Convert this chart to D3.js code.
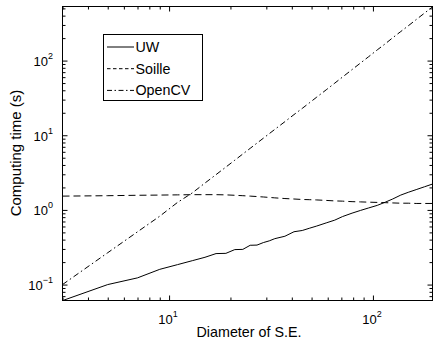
<!DOCTYPE html>
<html><head><meta charset="utf-8">
<script src="https://cdn.jsdelivr.net/npm/d3@7"></script>
<style>
body{margin:0;background:#fff}
svg{display:block}
text{font-family:"Liberation Sans",Arial,Helvetica,sans-serif;fill:#000}
</style>
</head><body><svg id="c" width="434" height="343"></svg>
<script>
const diameters=[3,5,7,9,11,13,15,17,19,21,23,25,27,29,31,33,37,41,45,49,53,59,65,71,79,87,95,105,115,125,137,149,163,179,196];
const uwTimes=[0.061,0.100,0.123,0.160,0.185,0.209,0.232,0.260,0.262,0.294,0.296,0.336,0.338,0.365,0.385,0.412,0.444,0.510,0.530,0.570,0.608,0.670,0.730,0.815,0.905,0.985,1.06,1.15,1.27,1.40,1.58,1.72,1.87,2.04,2.22];
const soilleTimes=[1.53,1.55,1.57,1.58,1.59,1.60,1.60,1.60,1.59,1.57,1.55,1.53,1.51,1.49,1.47,1.45,1.42,1.40,1.38,1.37,1.36,1.34,1.32,1.31,1.29,1.28,1.27,1.26,1.25,1.24,1.23,1.23,1.22,1.22,1.22];
const opencvTimes=[0.100,0.267,0.509,0.824,1.26,1.69,2.29,2.97,3.75,4.63,5.61,6.68,7.85,9.12,10.5,11.97,15.2,18.9,22.9,27.4,32.4,40.6,49.9,60.3,75.7,93,112,139,168,202,245,292,354,432,524];
const seriesNames=["UW","Soille","OpenCV"];
const seriesDash=[null,"7,4","6,3,1.5,3"];
const legendDash=[null,"3.5,2.5","5,2.5,1.5,2.5"];
const xMajorTicks=[10,100];
const xTickExps=["1","2"];
const yMajorTicks=[0.1,1,10,100];
const yTickExps=["\u22121","0","1","2"];
const xAxisTitle="Diameter of S.E.";
const yAxisTitle="Computing time (s)";

const svg=d3.select("#c");
const L=62.5,R=432.5,T=6.5,B=300.5;
const x=d3.scaleLog().domain([3,196]).range([L,R]);
const y=d3.scaleLog().domain([0.0612,530]).range([B,T]);

const isMajor=v=>Math.abs(Math.log10(v)-Math.round(Math.log10(v)))<1e-9;
const xMinor=x.ticks().filter(v=>!isMajor(v));
const yMinor=y.ticks().filter(v=>!isMajor(v));

function axisGroup(gen, tr){
  const g=svg.append("g").attr("transform",tr).call(gen);
  g.select(".domain").remove();
  g.selectAll("line").attr("stroke","#000").attr("stroke-width",1);
  g.selectAll("text").remove();
  return g;
}
axisGroup(d3.axisBottom(x).tickValues(xMajorTicks).tickSize(-5).tickFormat(""),`translate(0,${B})`);
axisGroup(d3.axisBottom(x).tickValues(xMinor).tickSize(-3).tickFormat(""),`translate(0,${B})`);
axisGroup(d3.axisTop(x).tickValues(xMajorTicks).tickSize(-5).tickFormat(""),`translate(0,${T})`);
axisGroup(d3.axisTop(x).tickValues(xMinor).tickSize(-3).tickFormat(""),`translate(0,${T})`);
axisGroup(d3.axisLeft(y).tickValues(yMajorTicks).tickSize(-5).tickFormat(""),`translate(${L},0)`);
axisGroup(d3.axisLeft(y).tickValues(yMinor).tickSize(-3).tickFormat(""),`translate(${L},0)`);
axisGroup(d3.axisRight(y).tickValues(yMajorTicks).tickSize(-5).tickFormat(""),`translate(${R},0)`);
axisGroup(d3.axisRight(y).tickValues(yMinor).tickSize(-3).tickFormat(""),`translate(${R},0)`);

svg.append("clipPath").attr("id","clip").append("rect")
  .attr("x",L).attr("y",T).attr("width",R-L).attr("height",B-T);

const series=[uwTimes,soilleTimes,opencvTimes];
const line=d3.line().x((d,i)=>x(diameters[i])).y(d=>y(d));
series.forEach((s,k)=>{
  svg.append("path").attr("d",line(s)).attr("fill","none")
    .attr("stroke","#000").attr("stroke-width",1)
    .attr("stroke-dasharray",seriesDash[k])
    .attr("clip-path","url(#clip)");
});

svg.append("rect").attr("x",L).attr("y",T).attr("width",R-L).attr("height",B-T)
  .attr("fill","none").attr("stroke","#000").attr("stroke-width",1);

xMajorTicks.forEach((v,i)=>{
  const t=svg.append("text").attr("x",x(v)-1).attr("y",324)
    .attr("text-anchor","middle").style("font-size","13px");
  t.append("tspan").text("10");
  t.append("tspan").attr("dy",-7).style("font-size","9px").text(xTickExps[i]);
});
yMajorTicks.forEach((v,i)=>{
  const t=svg.append("text").attr("x",53).attr("y",y(v)+5.5)
    .attr("text-anchor","end").style("font-size","13px");
  t.append("tspan").text("10");
  t.append("tspan").attr("dy",-7).style("font-size","9px").text(yTickExps[i]);
});
svg.append("text").attr("x",(L+R)/2+1.5).attr("y",336.5).attr("text-anchor","middle")
  .style("font-size","14.3px").text(xAxisTitle);
svg.append("text").attr("transform",`translate(20.5,153) rotate(-90)`)
  .attr("text-anchor","middle").style("font-size","15px").text(yAxisTitle);

const lg=svg.append("g");
lg.append("rect").attr("x",103.5).attr("y",34.5).attr("width",99).attr("height",66)
  .attr("fill","#fff").attr("stroke","#000").attr("stroke-width",1);
seriesNames.forEach((n,k)=>{
  const yy=47+k*21.7;
  lg.append("line").attr("x1",107).attr("x2",134).attr("y1",yy).attr("y2",yy)
    .attr("stroke","#000").attr("stroke-width",1).attr("stroke-dasharray",legendDash[k]);
  lg.append("text").attr("x",135.5).attr("y",yy+5).style("font-size","14.3px").text(n);
});
</script>
</body></html>
